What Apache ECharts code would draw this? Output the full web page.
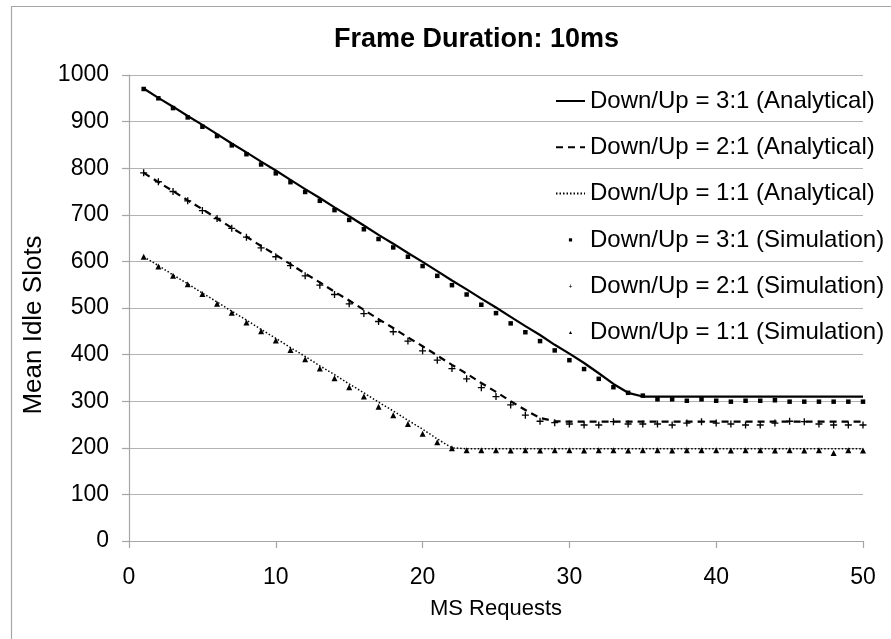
<!DOCTYPE html>
<html>
<head>
<meta charset="utf-8">
<script src="https://cdn.jsdelivr.net/npm/echarts@6/dist/echarts.min.js"></script>
<style>html,body{margin:0;padding:0;background:#fff}#c{width:891px;height:639px}</style>
</head>
<body>
<div id="c"></div>
<script>
const requests = [1,2,3,4,5,6,7,8,9,10,11,12,13,14,15,16,17,18,19,20,21,22,23,24,25,26,27,28,29,30,31,32,33,34,35,36,37,38,39,40,41,42,43,44,45,46,47,48,49,50];

const ana31 = [971,951,932,912,893,873,853,834,814,795,775,755,736,716,697,677,657,638,618,599,579,559,540,520,501,481,461,442,421,402,382,360,337,318,310,310,310,310,310,310,310,310,310,310,310,310,310,310,310,310];
const ana21 = [790,770,751,731,712,692,672,653,633,614,594,574,555,535,516,496,476,457,437,418,398,378,359,339,320,300,281,264,257,256,256,256,256,256,256,256,256,256,256,256,256,256,256,256,256,256,256,256,256,256];
const ana11 = [610,591,571,552,532,513,493,474,454,435,415,396,376,357,337,318,298,279,259,240,219,200,198,198,198,198,198,198,198,198,198,198,198,198,198,198,198,198,198,198,198,198,198,198,198,198,198,198,198,198];

const sim31 = [970,950,929,909,889,869,849,830,808,789,770,749,730,710,689,669,648,630,610,590,569,549,529,507,489,467,448,429,409,388,369,348,330,318,312,304,304,301,304,301,299,301,301,302,299,299,299,299,299,299];
const sim21 = [790,771,750,730,709,692,671,652,629,610,591,569,549,529,509,488,471,449,429,408,388,370,348,329,310,292,270,257,254,251,249,249,256,251,251,251,249,253,256,253,251,249,249,253,257,256,251,249,249,249];
const sim11 = [610,589,569,551,530,509,490,469,450,430,410,390,370,349,330,310,288,270,251,230,212,199,195,195,195,194,195,194,195,195,194,195,195,194,195,195,194,195,195,195,194,195,195,194,195,194,195,189,195,194];

const legendNames = [
  'Down/Up = 3:1 (Analytical)',
  'Down/Up = 2:1 (Analytical)',
  'Down/Up = 1:1 (Analytical)',
  'Down/Up = 3:1 (Simulation)',
  'Down/Up = 2:1 (Simulation)',
  'Down/Up = 1:1 (Simulation)'
];
const xTicks = [0,10,20,30,40,50];

function pairs(vals){ return requests.map((x,i)=>[x, vals[i]]); }

const FONT = 'Liberation Sans, Arial, sans-serif';
const PLUS = 'path://M3,0H4.4V3H7.4V4.4H4.4V7.4H3V4.4H0V3H3Z';
const chart = echarts.init(document.getElementById('c'), null, {renderer:'canvas'});
chart.setOption({
  animation: false,
  backgroundColor: '#fff',
  title: {
    text: 'Frame Duration: 10ms',
    left: 329, top: 21,
    textStyle: {fontFamily: FONT, fontSize: 27, fontWeight: 'bold', color: '#000'}
  },
  graphic: [{
    type: 'rect', left: 9, top: 4, silent: true,
    shape: {width: 881, height: 640},
    style: {fill: 'none', stroke: '#A6A6A6', lineWidth: 1.2}
  }],
  legend: {
    orient: 'vertical', left: 550, top: 84,
    itemWidth: 29, itemHeight: 4, itemGap: 22.3,
    textStyle: {fontFamily: FONT, fontSize: 24, color: '#000'},
    data: [
      {name: legendNames[0], itemStyle: {opacity: 0}},
      {name: legendNames[1], itemStyle: {opacity: 0}},
      {name: legendNames[2], itemStyle: {opacity: 0}},
      {name: legendNames[3]},
      {name: legendNames[4]},
      {name: legendNames[5]}
    ]
  },
  grid: {left: 129, top: 75, width: 734, height: 466, containLabel: false, outerBoundsMode: 'none'},
  xAxis: {
    type: 'value', min: 0, max: 50, interval: 10,
    name: 'MS Requests', nameLocation: 'middle', nameGap: 57,
    nameTextStyle: {fontFamily: FONT, fontSize: 22, color: '#000'},
    axisLine: {show: true, lineStyle: {color: '#A6A6A6', width: 1.2}},
    axisTick: {show: true, length: 7, lineStyle: {color: '#A6A6A6', width: 1.2}},
    axisLabel: {fontFamily: FONT, fontSize: 23, color: '#000', margin: 25,
      formatter: v => xTicks.includes(v) ? String(v) : ''},
    splitLine: {show: false}
  },
  yAxis: {
    type: 'value', min: 0, max: 1000, interval: 100,
    name: 'Mean Idle Slots', nameLocation: 'middle', nameGap: 80,
    nameTextStyle: {fontFamily: FONT, fontSize: 26, color: '#000', padding: [0, 34, 0, 0]},
    axisLine: {show: true, lineStyle: {color: '#A6A6A6', width: 1.2}},
    axisTick: {show: true, length: 7, lineStyle: {color: '#A6A6A6', width: 1.2}},
    axisLabel: {fontFamily: FONT, fontSize: 23, color: '#000', margin: 20, formatter: v => String(v)},
    splitLine: {show: true, lineStyle: {color: '#B3B3B3', width: 1.2}}
  },
  series: [
    {name: legendNames[0], type: 'line', data: pairs(ana31), symbol: 'none', z: 2,
     lineStyle: {color: '#000', width: 2.2, type: 'solid'}, itemStyle: {color: '#000'}},
    {name: legendNames[1], type: 'line', data: pairs(ana21), symbol: 'none', z: 2,
     lineStyle: {color: '#000', width: 2.2, type: [7, 5]}, itemStyle: {color: '#000'}},
    {name: legendNames[2], type: 'line', data: pairs(ana11), symbol: 'none', z: 2,
     lineStyle: {color: '#000', width: 1.5, type: [1.5, 2]}, itemStyle: {color: '#000'}},
    {name: legendNames[3], type: 'line', data: pairs(sim31), symbol: 'rect', symbolSize: 4.5, z: 3,
     showSymbol: true, lineStyle: {width: 0, opacity: 0}, itemStyle: {color: '#000'}},
    {name: legendNames[4], type: 'line', data: pairs(sim21), symbol: PLUS, symbolSize: 7, z: 3,
     showSymbol: true, lineStyle: {width: 0, opacity: 0}, itemStyle: {color: '#000'}},
    {name: legendNames[5], type: 'line', data: pairs(sim11), symbol: 'triangle', symbolSize: 6, z: 3,
     showSymbol: true, lineStyle: {width: 0, opacity: 0}, itemStyle: {color: '#000'}}
  ]
});
</script>
</body>
</html>
